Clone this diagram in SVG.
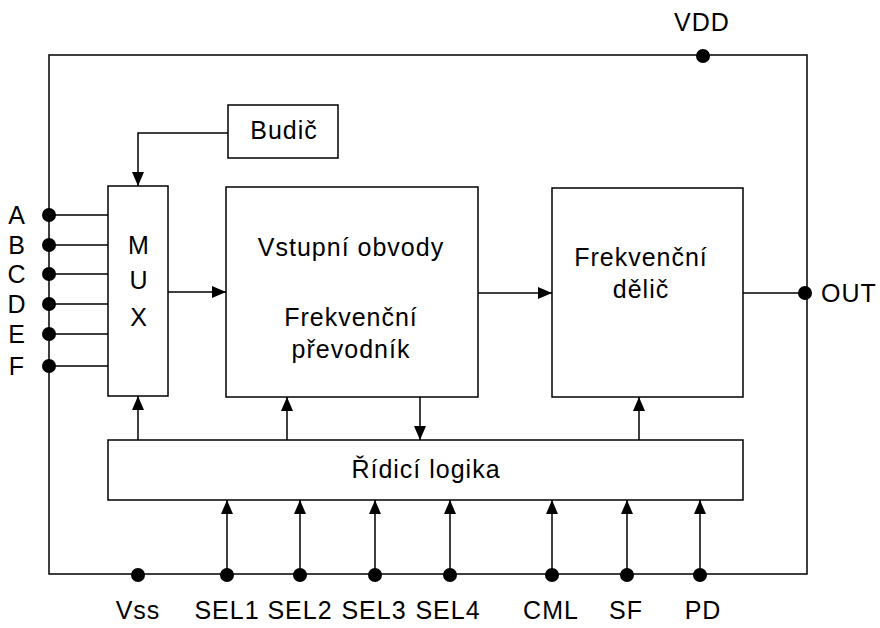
<svg xmlns="http://www.w3.org/2000/svg" width="880" height="628" viewBox="0 0 880 628">
<style>
.box{fill:#fff;stroke:#000;stroke-width:1.5}
.ln{fill:none;stroke:#000;stroke-width:1.5}
.arr{fill:none;stroke:#000;stroke-width:1.5;marker-end:url(#ah)}
.dot{fill:#000}
text{font-family:"Liberation Sans",Arial,sans-serif;font-size:25px;fill:#000;letter-spacing:1px}
.c{text-anchor:middle}
</style>
<defs>
<marker id="ah" viewBox="0 0 14 12" refX="14" refY="6" markerWidth="14" markerHeight="12" markerUnits="userSpaceOnUse" orient="auto">
<path d="M0,0 L14,6 L0,12 Z" fill="#000"/>
</marker>
</defs>
<rect width="880" height="628" fill="#fff"/>
<g id="connectors">
<path class="ln" d="M49,55 H807 V574 H49 Z"/>
<path class="arr" d="M228,133 H138 V186"/>
<path class="ln" d="M49,215 H108 M49,245 H108 M49,274 H108 M49,304 H108 M49,334 H108 M49,366 H108"/>
<path class="arr" d="M168,292 H226"/>
<path class="arr" d="M478,293 H552"/>
<path class="ln" d="M743,293 H807"/>
<path class="arr" d="M138,440 V396"/>
<path class="arr" d="M287,440 V397"/>
<path class="arr" d="M420,397 V440"/>
<path class="arr" d="M639,440 V397"/>
<path class="arr" d="M227,574 V500"/>
<path class="arr" d="M300,574 V500"/>
<path class="arr" d="M375,574 V500"/>
<path class="arr" d="M450,574 V500"/>
<path class="arr" d="M552,574 V500"/>
<path class="arr" d="M627,574 V500"/>
<path class="arr" d="M700,574 V500"/>
</g>
<g id="pins">
<circle class="dot" cx="703" cy="56" r="7"/>
<circle class="dot" cx="805" cy="293" r="7"/>
<circle class="dot" cx="49" cy="215" r="7"/>
<circle class="dot" cx="49" cy="245" r="7"/>
<circle class="dot" cx="49" cy="274" r="7"/>
<circle class="dot" cx="49" cy="304" r="7"/>
<circle class="dot" cx="49" cy="334" r="7"/>
<circle class="dot" cx="49" cy="366" r="7"/>
<circle class="dot" cx="138" cy="575" r="7"/>
<circle class="dot" cx="227" cy="575" r="7"/>
<circle class="dot" cx="300" cy="575" r="7"/>
<circle class="dot" cx="375" cy="575" r="7"/>
<circle class="dot" cx="450" cy="575" r="7"/>
<circle class="dot" cx="552" cy="575" r="7"/>
<circle class="dot" cx="627" cy="575" r="7"/>
<circle class="dot" cx="700" cy="575" r="7"/>
<text class="c" x="702" y="31">VDD</text>
<text x="821" y="302">OUT</text>
<text class="c" x="17" y="224">A</text>
<text class="c" x="17" y="254">B</text>
<text class="c" x="17" y="283">C</text>
<text class="c" x="17" y="313">D</text>
<text class="c" x="17" y="343">E</text>
<text class="c" x="17" y="375">F</text>
<text class="c" x="138" y="619">Vss</text>
<text class="c" x="227" y="619">SEL1</text>
<text class="c" x="300" y="619">SEL2</text>
<text class="c" x="374" y="619">SEL3</text>
<text class="c" x="448" y="619">SEL4</text>
<text class="c" x="551" y="619">CML</text>
<text class="c" x="626" y="619">SF</text>
<text class="c" x="703" y="619">PD</text>
</g>
<g id="budic">
<rect class="box" x="228" y="105" width="110" height="53"/>
<text class="c" x="284" y="139">Budič</text>
</g>
<g id="mux">
<rect class="box" x="108" y="186" width="60" height="210"/>
<text class="c" x="139" y="254">M</text>
<text class="c" x="139" y="289">U</text>
<text class="c" x="139" y="326">X</text>
</g>
<g id="vstup">
<rect class="box" x="226" y="187" width="252" height="210"/>
<text class="c" x="351" y="256">Vstupní obvody</text>
<text class="c" x="351" y="326">Frekvenční</text>
<text class="c" x="351" y="358">převodník</text>
</g>
<g id="delic">
<rect class="box" x="552" y="188" width="191" height="209"/>
<text class="c" x="641" y="266">Frekvenční</text>
<text class="c" x="641" y="298">dělič</text>
</g>
<g id="logika">
<rect class="box" x="108" y="440" width="635" height="60"/>
<text class="c" x="426" y="478">Řídicí logika</text>
</g>
</svg>
